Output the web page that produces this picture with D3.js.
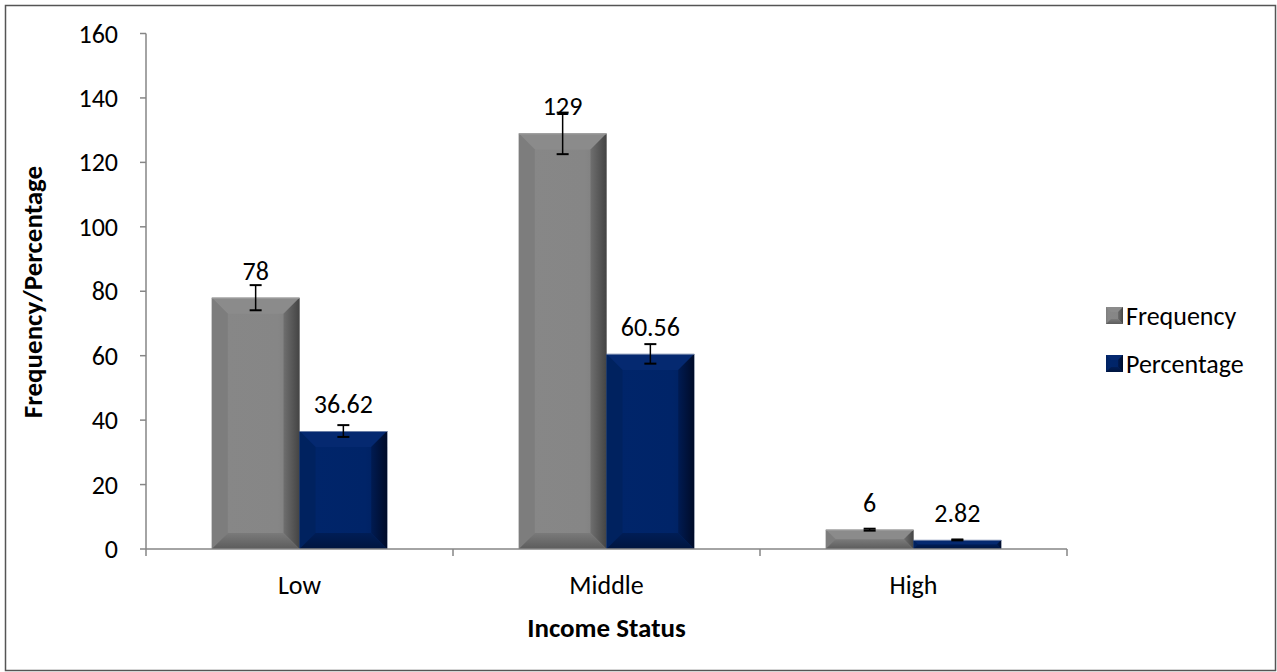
<!DOCTYPE html>
<html>
<head>
<meta charset="utf-8">
<script src="https://cdn.jsdelivr.net/npm/d3@7"></script>
<style>
  html, body { margin: 0; padding: 0; background: #fff; }
  text { font-family: Carlito, Calibri, Lato, sans-serif; fill: #000; }
</style>
</head>
<body>
<div id="vis"></div>
<script>
// data
var categories = ["Low", "Middle", "High"];
var seriesNames = ["Frequency", "Percentage"];
var frequency = [78, 129, 6];
var percentage = [36.62, 60.56, 2.82];
var freqError = [3.9, 6.45, 0.3];
var pctError = [1.83, 3.03, 0.14];
var yTicks = [0, 20, 40, 60, 80, 100, 120, 140, 160];

var W = 1277, H = 672;
var margin = {top: 33.5, right: 210, bottom: 123, left: 146};
var width = 1067 - margin.left;
var height = 549 - margin.top;

var svg = d3.select("#vis").append("svg")
    .attr("width", W)
    .attr("height", H);

// outer frame
svg.append("rect")
    .attr("x", 5.5).attr("y", 5.5)
    .attr("width", 1270).attr("height", 665)
    .attr("fill", "none").attr("stroke", "#555").attr("stroke-width", 1.5);

var defs = svg.append("defs");
function grad(id, stops, vertical) {
  var gr = defs.append("linearGradient").attr("id", id)
      .attr("x1", "0%").attr("y1", "0%")
      .attr("x2", vertical ? "0%" : "100%").attr("y2", vertical ? "100%" : "0%");
  stops.forEach(function(s) {
    gr.append("stop").attr("offset", s[0]).attr("stop-color", s[1]);
  });
}
grad("gFace0", [["0%", "#7e7e7e"], ["15%", "#878787"], ["75%", "#868686"], ["100%", "#7a7a7a"]]);
grad("gFace1", [["0%", "#00215f"], ["15%", "#00256a"], ["75%", "#002468"], ["100%", "#001f5a"]]);
grad("gRight0", [["0%", "#6f6f6f"], ["100%", "#444444"]]);
grad("gRight1", [["0%", "#001b52"], ["100%", "#000b28"]]);
grad("gBot0", [["0%", "#7a7a7a"], ["100%", "#5c5c5c"]], true);
grad("gBot1", [["0%", "#001d56"], ["100%", "#00153f"]], true);

var palette = [
  {face: "url(#gFace0)", top: "#8b8b8b", left: "#7d7d7d", right: "url(#gRight0)", bottom: "url(#gBot0)", rim: "#a0a0a0"},
  {face: "url(#gFace1)", top: "#052970", left: "#00225f", right: "url(#gRight1)", bottom: "url(#gBot1)", rim: "#6a7ea6"}
];

var g = svg.append("g")
    .attr("transform", "translate(" + margin.left + "," + margin.top + ")");

var x0 = d3.scaleBand().domain(categories).range([0, width]).paddingInner(0).paddingOuter(0);
var groupW = x0.bandwidth();
var barW = groupW / 3.5;
var x1 = d3.scaleBand().domain(seriesNames).range([groupW / 2 - barW, groupW / 2 + barW]).padding(0);
var y = d3.scaleLinear().domain([0, 160]).range([height, 0]);

// axes
var axisColor = "#868686";
g.append("line").attr("x1", 0).attr("x2", 0).attr("y1", 0).attr("y2", height)
    .attr("stroke", axisColor).attr("stroke-width", 1.5);
g.selectAll(".ytick").data(yTicks).enter().append("line")
    .attr("x1", -6).attr("x2", 0)
    .attr("y1", function(d) { return y(d); }).attr("y2", function(d) { return y(d); })
    .attr("stroke", axisColor).attr("stroke-width", 1.5);
g.selectAll(".ylab").data(yTicks).enter().append("text")
    .attr("x", -28).attr("y", function(d) { return y(d); })
    .attr("dy", "0.35em").attr("text-anchor", "end")
    .style("font-size", "26px").text(function(d) { return d; });

var bounds = [0].concat(categories.map(function(c) { return x0(c) + groupW; }));
g.selectAll(".xtick").data(bounds).enter().append("line")
    .attr("x1", function(d) { return d; }).attr("x2", function(d) { return d; })
    .attr("y1", height).attr("y2", height + 7)
    .attr("stroke", axisColor).attr("stroke-width", 1.5);

// bars
var series = [frequency, percentage];
var errors = [freqError, pctError];
function bevelBar(sel, bx, by, bw, bh, p) {
  var b = Math.min(16, bw / 2, bh / 2);
  var x2 = bx + bw, y2 = by + bh;
  sel.append("rect").attr("x", bx).attr("y", by).attr("width", bw).attr("height", bh).attr("fill", p.face);
  var poly = function(pts, fill) {
    sel.append("polygon").attr("points", pts.map(function(q) { return q.join(","); }).join(" ")).attr("fill", fill);
  };
  poly([[bx, by], [x2, by], [x2 - b, by + b], [bx + b, by + b]], p.top);
  poly([[bx, by], [bx + b, by + b], [bx + b, y2 - b], [bx, y2]], p.left);
  poly([[x2, by], [x2, y2], [x2 - b, y2 - b], [x2 - b, by + b]], p.right);
  poly([[bx, y2], [bx + b, y2 - b], [x2 - b, y2 - b], [x2, y2]], p.bottom);
  sel.append("line").attr("x1", bx).attr("x2", x2).attr("y1", by + 0.5).attr("y2", by + 0.5)
      .attr("stroke", p.rim).attr("stroke-width", 1);
}

seriesNames.forEach(function(name, si) {
  categories.forEach(function(cat, ci) {
    var v = series[si][ci];
    var bx = x0(cat) + x1(name);
    var by = y(v);
    var grp = g.append("g");
    bevelBar(grp, bx, by, x1.bandwidth(), y(0) - by, palette[si]);
  });
});

// x axis line over bars' bottom
g.append("line").attr("x1", 0).attr("x2", width).attr("y1", height).attr("y2", height)
    .attr("stroke", axisColor).attr("stroke-width", 1.5);

// error bars and labels
seriesNames.forEach(function(name, si) {
  categories.forEach(function(cat, ci) {
    var v = series[si][ci], e = errors[si][ci];
    var cx = x0(cat) + x1(name) + x1.bandwidth() / 2;
    var capW = 6;
    g.append("line").attr("x1", cx).attr("x2", cx).attr("y1", y(v + e)).attr("y2", y(v - e))
        .attr("stroke", "#000").attr("stroke-width", 1.5);
    [v + e, v - e].forEach(function(t) {
      g.append("line").attr("x1", cx - capW).attr("x2", cx + capW).attr("y1", y(t)).attr("y2", y(t))
          .attr("stroke", "#000").attr("stroke-width", 2);
    });
    g.append("text").attr("x", cx).attr("y", y(v) - 18)
        .attr("text-anchor", "middle").style("font-size", "26px")
        .text(v);
  });
});

// category labels
g.selectAll(".xlab").data(categories).enter().append("text")
    .attr("x", function(d) { return x0(d) + groupW / 2; })
    .attr("y", height + 36)
    .attr("dy", "0.35em").attr("text-anchor", "middle")
    .style("font-size", "26px").text(function(d) { return d; });

// axis titles
svg.append("text").attr("x", margin.left + width / 2).attr("y", 628)
    .attr("dy", "0.35em").attr("text-anchor", "middle")
    .style("font-size", "27px").style("font-weight", "bold").text("Income Status");
svg.append("text")
    .attr("transform", "translate(33,292) rotate(-90)")
    .attr("dy", "0.35em").attr("text-anchor", "middle")
    .style("font-size", "27px").style("font-weight", "bold").text("Frequency/Percentage");

// legend
var legend = svg.append("g").attr("transform", "translate(1106,307)");
seriesNames.forEach(function(name, i) {
  var lg = legend.append("g").attr("transform", "translate(0," + (i * 48) + ")");
  var p = palette[i];
  var s = 17, b = 5;
  lg.append("rect").attr("width", s).attr("height", s).attr("fill", p.face);
  lg.append("polygon").attr("points", [[0, 0], [s, 0], [s - b, b], [b, b]].join(" ")).attr("fill", p.top);
  lg.append("polygon").attr("points", [[s, 0], [s, s], [s - b, s - b], [s - b, b]].join(" ")).attr("fill", p.right);
  lg.append("polygon").attr("points", [[0, s], [b, s - b], [s - b, s - b], [s, s]].join(" ")).attr("fill", p.bottom);
  lg.append("text").attr("x", s + 3).attr("y", s / 2).attr("dy", "0.35em")
      .style("font-size", "26px").text(name);
});
</script>
</body>
</html>
